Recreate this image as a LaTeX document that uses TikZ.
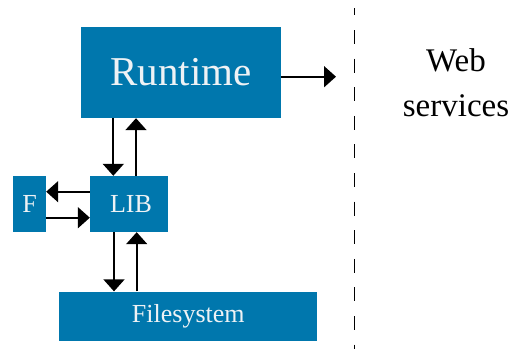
\documentclass[tikz,border=0pt]{standalone}
\usepackage{fontspec}
\setmainfont{Liberation Serif}
\usetikzlibrary{arrows.meta,calc}
\definecolor{boxblue}{HTML}{0077AD}
\definecolor{boxtext}{HTML}{EEF2F5}
\tikzset{
  block/.style={fill=boxblue, draw=none, inner sep=0pt, text=boxtext, anchor=center},
  arr/.style={-{Triangle[length=12pt,width=21pt]}, line width=1.8pt, black},
}
\begin{document}
\begin{tikzpicture}[x=1pt,y=-1pt]
\useasboundingbox (0,0) rectangle (516,349);
% blocks
\node[block, minimum width=200pt, minimum height=91pt,
      font=\fontsize{41}{45}\selectfont] (rt) at (181,72.5) {Runtime};
\node[block, minimum width=78pt, minimum height=56pt,
      font=\fontsize{26}{29}\selectfont] (lib) at (129,204) {\hspace{4pt}LIB};
\node[block, minimum width=33pt, minimum height=56pt,
      font=\fontsize{26}{29}\selectfont] (f) at (29.5,204) {F};
\node[block, minimum width=258pt, minimum height=49.5pt,
      font=\fontsize{26}{29}\selectfont] (fs) at (188.3,316.3) {Filesystem};
% remote side
\node[align=center, inner sep=0pt, font=\fontsize{33}{45}\selectfont] (web) at (456,83) {Web\\services};
\draw[line width=1.3pt, dash pattern=on 14pt off 14.6pt, dash phase=6.6pt] (354.3,8) -- (354.3,349);
\coordinate (webin) at (336,76.7);
% connectors
\draw[arr] ([yshift=-4.2pt]rt.east) -- (webin);
\draw[arr] ([xshift=-15.7pt]lib.north |- rt.south) -- ([xshift=-15.7pt]lib.north);
\draw[arr] ([xshift=7pt]lib.north) -- ([xshift=7pt]lib.north |- rt.south);
\draw[arr] ([yshift=12.3pt]lib.west) -- ([yshift=12.3pt]lib.west -| f.east);
\draw[arr] ([yshift=-13.7pt]lib.west -| f.east) -- ([yshift=-13.7pt]lib.west);
\draw[arr] ([xshift=-15pt]lib.south) -- ([xshift=-15pt]lib.south |- fs.north);
\draw[arr] ([xshift=7.7pt]lib.south |- fs.north) -- ([xshift=7.7pt]lib.south);
\end{tikzpicture}
\end{document}
